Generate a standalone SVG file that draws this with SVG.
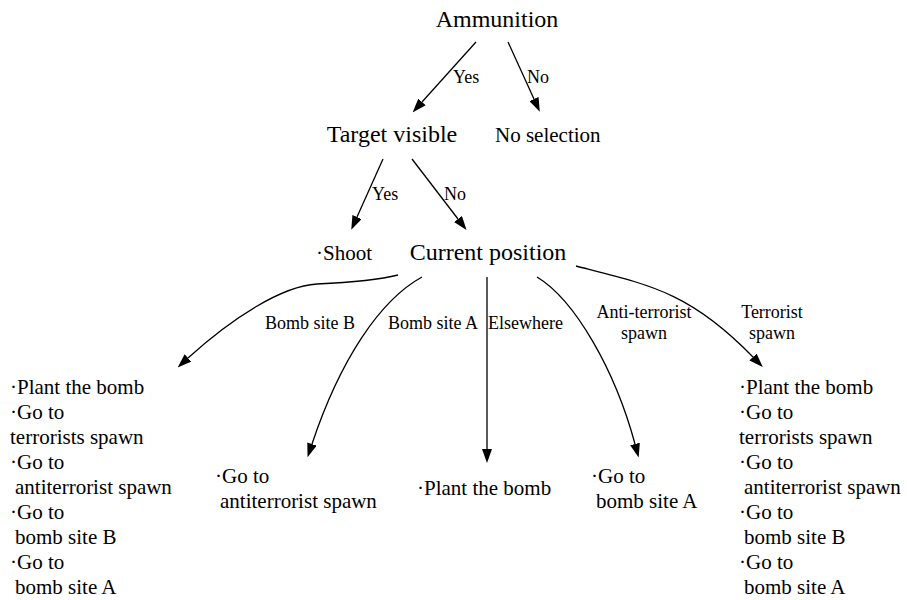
<svg xmlns="http://www.w3.org/2000/svg" width="907" height="600" viewBox="0 0 907 600">
  <defs>
    <style>
      text { fill: #000; }
      .main { font-size: 24px; text-anchor: middle; }
      .leaf { font-size: 21px; }
      .lbl { font-size: 18px; }
      .mid { text-anchor: middle; }
      .edge { fill: none; stroke: #000; stroke-width: 1.3; marker-end: url(#arrow); }
    </style>
    <marker id="arrow" viewBox="0 0 14 10" refX="0" refY="5" markerWidth="14" markerHeight="10" markerUnits="userSpaceOnUse" orient="auto">
      <path d="M0,0 L14,5 L0,10 Z" fill="#000"/>
    </marker>
  </defs>
  <rect width="907" height="600" fill="#fff"/>

  <g font-family="'Liberation Serif', 'DejaVu Serif', serif">
  <!-- connectors -->
  <g id="edges">
    <path class="edge" d="M476,42 L422,102"/>
    <path class="edge" d="M508,42 L534,99"/>
    <path class="edge" d="M383,159 L357,217"/>
    <path class="edge" d="M412,159 L458,219"/>
    <path class="edge" d="M398,275 C375,281 340,283 317,284 C282,286 232,318 188,358"/>
    <path class="edge" d="M422,277 C380,300 340,360 312,444"/>
    <path class="edge" d="M487,277 L487,449"/>
    <path class="edge" d="M537,277 C575,300 615,370 635,444"/>
    <path class="edge" d="M576,266 C650,285 690,292 753,357"/>
  </g>

  <!-- edge labels -->
  <g id="labels">
    <text class="lbl" x="453" y="83">Yes</text>
    <text class="lbl" x="527" y="83">No</text>
    <text class="lbl" x="372" y="200">Yes</text>
    <text class="lbl" x="444" y="200">No</text>
    <text class="lbl" x="265" y="329">Bomb site B</text>
    <text class="lbl" x="388" y="329">Bomb site A</text>
    <text class="lbl" x="488" y="329">Elsewhere</text>
    <text class="lbl mid" x="644" y="318">Anti-terrorist<tspan x="644" y="339">spawn</tspan></text>
    <text class="lbl mid" x="772" y="318">Terrorist<tspan x="772" y="339">spawn</tspan></text>
  </g>

  <!-- nodes -->
  <g id="ammunition"><text class="main" x="497" y="27">Ammunition</text></g>
  <g id="target-visible"><text class="main" x="392" y="142">Target visible</text></g>
  <g id="no-selection"><text class="leaf" x="495" y="142">No selection</text></g>
  <g id="shoot"><text class="leaf" x="316" y="260">·Shoot</text></g>
  <g id="current-position"><text class="main" x="488" y="260">Current position</text></g>

  <g id="leaf-site-b">
    <text class="leaf" x="10" y="394">·Plant the bomb</text>
    <text class="leaf" x="10" y="419">·Go to</text>
    <text class="leaf" x="10" y="444">terrorists spawn</text>
    <text class="leaf" x="10" y="469">·Go to</text>
    <text class="leaf" x="15" y="494">antiterrorist spawn</text>
    <text class="leaf" x="10" y="519">·Go to</text>
    <text class="leaf" x="15" y="544">bomb site B</text>
    <text class="leaf" x="10" y="569">·Go to</text>
    <text class="leaf" x="15" y="594">bomb site A</text>
  </g>

  <g id="leaf-site-a">
    <text class="leaf" x="215" y="483">·Go to</text>
    <text class="leaf" x="220" y="508">antiterrorist spawn</text>
  </g>

  <g id="leaf-elsewhere">
    <text class="leaf" x="417" y="495">·Plant the bomb</text>
  </g>

  <g id="leaf-anti-spawn">
    <text class="leaf" x="591" y="483">·Go to</text>
    <text class="leaf" x="596" y="508">bomb site A</text>
  </g>

  <g id="leaf-terror-spawn">
    <text class="leaf" x="739" y="394">·Plant the bomb</text>
    <text class="leaf" x="739" y="419">·Go to</text>
    <text class="leaf" x="739" y="444">terrorists spawn</text>
    <text class="leaf" x="739" y="469">·Go to</text>
    <text class="leaf" x="744" y="494">antiterrorist spawn</text>
    <text class="leaf" x="739" y="519">·Go to</text>
    <text class="leaf" x="744" y="544">bomb site B</text>
    <text class="leaf" x="739" y="569">·Go to</text>
    <text class="leaf" x="744" y="594">bomb site A</text>
  </g>
  </g>
</svg>
